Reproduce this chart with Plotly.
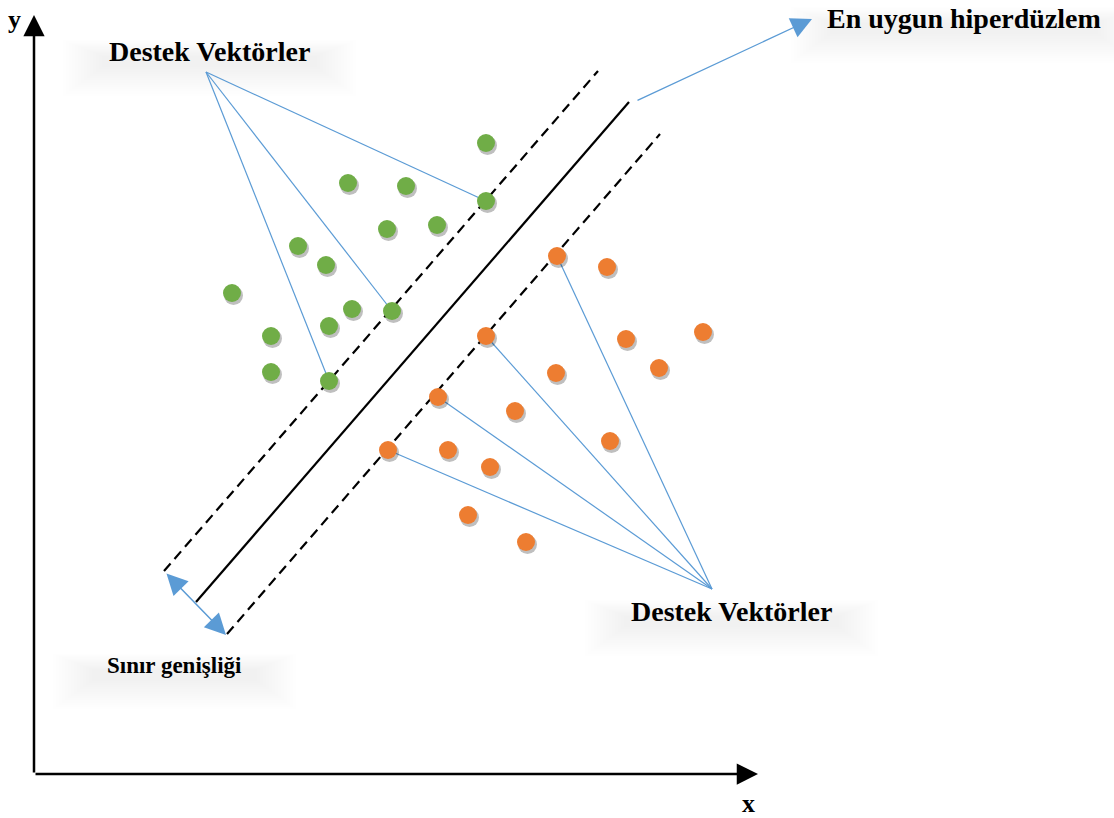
import plotly.graph_objects as go

# ---- data (pixel-space coordinates of the diagram) ----
green_x = [486, 348, 406, 486, 387, 437, 298, 326, 232, 352, 392, 329, 271, 271, 329]
green_y = [143, 183, 186, 201, 229, 225, 246, 265, 293, 309, 311, 326, 336, 372, 381]
orange_x = [557, 607, 486, 626, 703, 556, 659, 438, 515, 610, 388, 448, 490, 468, 526]
orange_y = [256, 267, 336, 339, 332, 373, 368, 397, 411, 441, 450, 450, 467, 515, 542]

hyperplane_x = [196, 629]
hyperplane_y = [602, 102]
margin_upper_x = [164, 598]
margin_upper_y = [571, 71]
margin_lower_x = [227, 660]
margin_lower_y = [634, 134]

green_sv_idx = [3, 10, 14]      # support vectors (green)
orange_sv_idx = [10, 7, 2, 0]   # support vectors (orange)
label_top_apex = (206, 72)
label_bottom_apex = (712, 589)

labels = ["Destek Vektörler", "Destek Vektörler", "En uygun hiperdüzlem", "Sınır genişliği", "y", "x"]

BLUE = "#5B9BD5"
GREEN = "#70AD47"
ORANGE = "#ED7D31"
FONT = "Liberation Serif"

fig = go.Figure()

text_specs = [
    (labels[0], 209.5, 51.5, 28),
    (labels[1], 731.5, 611.5, 28),
    (labels[2], 964, 18.5, 28),
    (labels[3], 174.5, 665, 23),
    (labels[4], 14, 19, 26),
    (labels[5], 748.5, 803, 26),
]

# soft grey haze below the texts (imitating the blurred shadows): many faint layers
shapes = []
for t, x, y, s in text_specs[:4]:
    half_w = 0.24 * s * len(t)
    for k in range(14):
        shapes.append(dict(type="rect", xref="x", yref="y", layer="below",
                           x0=x - half_w - 3 * k, x1=x + half_w + 3 * k,
                           y0=y + 4 - 1.2 * k, y1=y + 16 + 2.2 * k,
                           fillcolor="rgba(0,0,0,0.0055)", line=dict(width=0)))

# leader lines from labels to support vectors
for i in green_sv_idx:
    fig.add_trace(go.Scatter(x=[label_top_apex[0], green_x[i]], y=[label_top_apex[1], green_y[i]],
                             mode="lines", line=dict(color=BLUE, width=1.2), hoverinfo="skip", showlegend=False))
for i in orange_sv_idx:
    fig.add_trace(go.Scatter(x=[label_bottom_apex[0], orange_x[i]], y=[label_bottom_apex[1], orange_y[i]],
                             mode="lines", line=dict(color=BLUE, width=1.2), hoverinfo="skip", showlegend=False))

# hyperplane and margins
fig.add_trace(go.Scatter(x=hyperplane_x, y=hyperplane_y, mode="lines",
                         line=dict(color="black", width=2.2), hoverinfo="skip", showlegend=False))
for mx, my in [(margin_upper_x, margin_upper_y), (margin_lower_x, margin_lower_y)]:
    fig.add_trace(go.Scatter(x=mx, y=my, mode="lines",
                             line=dict(color="black", width=2.2, dash="10px,6px"), hoverinfo="skip", showlegend=False))

# dot shadows
fig.add_trace(go.Scatter(x=[v + 1.5 for v in green_x + orange_x], y=[v + 2.5 for v in green_y + orange_y],
                         mode="markers", marker=dict(size=19, color="rgba(0,0,0,0.25)", line=dict(width=0)),
                         hoverinfo="skip", showlegend=False))
# dots
fig.add_trace(go.Scatter(x=green_x, y=green_y, mode="markers",
                         marker=dict(size=18, color=GREEN, line=dict(width=0)), showlegend=False))
fig.add_trace(go.Scatter(x=orange_x, y=orange_y, mode="markers",
                         marker=dict(size=18, color=ORANGE, line=dict(width=0)), showlegend=False))

ann = []
# axes arrows
ann.append(dict(x=34, y=15, ax=34, ay=774, xref="x", yref="y", axref="x", ayref="y", text="",
                showarrow=True, arrowhead=2, arrowsize=1.7, arrowwidth=2.5, arrowcolor="black"))
ann.append(dict(x=758, y=774, ax=34, ay=774, xref="x", yref="y", axref="x", ayref="y", text="",
                showarrow=True, arrowhead=2, arrowsize=1.7, arrowwidth=2.5, arrowcolor="black"))
# arrow to hyperplane label
ann.append(dict(x=812, y=19, ax=636, ay=101, xref="x", yref="y", axref="x", ayref="y", text="",
                showarrow=True, arrowhead=2, arrowsize=3.2, arrowwidth=1.3, arrowcolor=BLUE))
# margin width double arrow
ann.append(dict(x=226, y=635, ax=165, ay=572, xref="x", yref="y", axref="x", ayref="y", text="",
                showarrow=True, arrowhead=2, startarrowhead=2, arrowside="end+start",
                arrowsize=2.8, startarrowsize=2.8, arrowwidth=1.5, arrowcolor=BLUE))

for t, x, y, s in text_specs:
    ann.append(dict(x=x, y=y, xref="x", yref="y", text="<b>" + t + "</b>", showarrow=False,
                    xanchor="center", yanchor="middle", font=dict(family=FONT, size=s, color="black")))

fig.update_layout(
    width=1114, height=818,
    margin=dict(l=0, r=0, t=0, b=0),
    paper_bgcolor="white", plot_bgcolor="white",
    xaxis=dict(range=[0, 1114], visible=False, fixedrange=True),
    yaxis=dict(range=[818, 0], visible=False, fixedrange=True),
    annotations=ann,
    shapes=shapes,
    showlegend=False,
    hovermode=False,
)

fig.write_html("out.html",
               config={"displayModeBar": False, "staticPlot": True},
               post_script="document.body.style.margin='0';document.body.style.overflow='hidden';")
